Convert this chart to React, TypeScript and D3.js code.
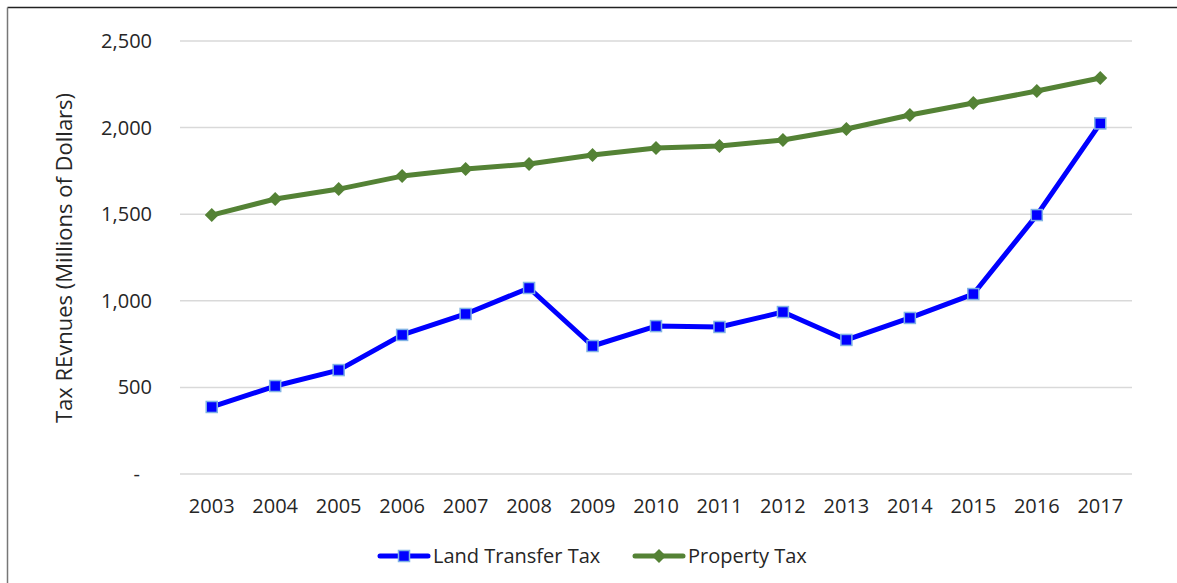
import React from "react";
import * as d3 from "d3";

const years = ["2003","2004","2005","2006","2007","2008","2009","2010","2011","2012","2013","2014","2015","2016","2017"];
const landTransfer = [387, 508, 600, 803, 924, 1074, 739, 854, 849, 935, 774, 901, 1039, 1495, 2024];
const propertyTax = [1495, 1588, 1645, 1720, 1761, 1790, 1842, 1882, 1894, 1928, 1992, 2073, 2142, 2211, 2286];
const yTicks = [0, 500, 1000, 1500, 2000, 2500];

const W = 1177, H = 583;
const FONT = "'Open Sans', 'Noto Sans', sans-serif";
const TXT = "#262626";

export default function App() {
  const x = d3.scaleBand<string>().domain(years).range([180, 1132]);
  const y = d3.scaleLinear().domain([0, 2500]).range([474, 41]);
  const cx = (yr: string) => (x(yr) as number) + x.bandwidth() / 2;
  const line = d3.line<number>().x((_, i) => cx(years[i])).y((v) => y(v));
  const fmt = d3.format(",");
  const sq = 11;
  const dg = 7;
  const diamond = (px: number, py: number) => `M${px},${py - dg}L${px + dg},${py}L${px},${py + dg}L${px - dg},${py}Z`;

  return (
    <svg width={W} height={H} style={{ position: "absolute", left: 0, top: 0, background: "#fff" }}>
      <line x1={7.5} y1={7.5} x2={W} y2={7.5} stroke="#222" strokeWidth={1.5} />
      <line x1={7.5} y1={7.5} x2={7.5} y2={H} stroke="#777" strokeWidth={1.5} />
      {yTicks.map((t) => (
        <g key={t}>
          <line x1={180} x2={1132} y1={y(t)} y2={y(t)} stroke="#d9d9d9" strokeWidth={1.5} />
          <text x={t === 0 ? 140 : 152} y={y(t)} dy="0.35em" textAnchor="end" fontFamily={FONT} fontSize={20} fill={TXT}>
            {t === 0 ? "-" : fmt(t)}
          </text>
        </g>
      ))}
      {years.map((yr) => (
        <text key={yr} x={cx(yr)} y={506} dy="0.35em" textAnchor="middle" fontFamily={FONT} fontSize={20} fill={TXT}>{yr}</text>
      ))}
      <text transform="translate(64,258) rotate(-90)" dy="0.35em" textAnchor="middle" fontFamily={FONT} fontSize={22} fill={TXT}>
        Tax REvnues (Millions of Dollars)
      </text>
      <path d={line(propertyTax) as string} fill="none" stroke="#548235" strokeWidth={5} strokeLinejoin="round" />
      {propertyTax.map((v, i) => (
        <path key={i} d={diamond(cx(years[i]), y(v))} fill="#548235" />
      ))}
      <path d={line(landTransfer) as string} fill="none" stroke="#0000ff" strokeWidth={5} strokeLinejoin="round" />
      {landTransfer.map((v, i) => (
        <rect key={i} x={cx(years[i]) - sq / 2} y={y(v) - sq / 2} width={sq} height={sq} fill="#0000ff" stroke="#7fb2e5" strokeWidth={1.5} />
      ))}
      <g>
        <line x1={380} x2={428} y1={556} y2={556} stroke="#0000ff" strokeWidth={5} strokeLinecap="round" />
        <rect x={404 - sq / 2} y={556 - sq / 2} width={sq} height={sq} fill="#0000ff" stroke="#7fb2e5" strokeWidth={1.5} />
        <text x={433} y={556} dy="0.35em" fontFamily={FONT} fontSize={20} fill={TXT}>Land Transfer Tax</text>
        <line x1={635} x2={683} y1={556} y2={556} stroke="#548235" strokeWidth={5} strokeLinecap="round" />
        <path d={diamond(659, 556)} fill="#548235" />
        <text x={688} y={556} dy="0.35em" fontFamily={FONT} fontSize={20} fill={TXT}>Property Tax</text>
      </g>
    </svg>
  );
}
